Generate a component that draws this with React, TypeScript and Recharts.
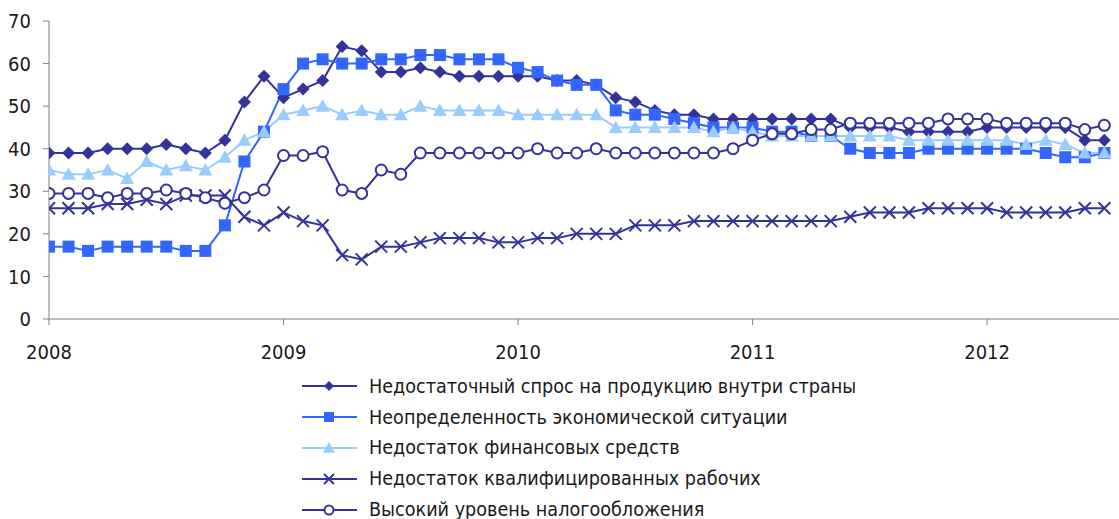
import React from 'react';
import { LineChart, Line, XAxis, YAxis, Legend } from 'recharts';

const years = ['2008', '2009', '2010', '2011', '2012'];
const yearTicks = [0, 12, 24, 36, 48];
const valueTicks = [0, 10, 20, 30, 40, 50, 60, 70];

// monthly values, Jan 2008 .. Jul 2012
const demand = [
  39, 39, 39, 40, 40, 40, 41, 40, 39, 42, 51, 57, 52, 54, 56, 64, 63,
  58, 58, 59, 58, 57, 57, 57, 57, 57, 56, 56, 55, 52, 51, 49, 48, 48, 47, 47,
  47, 47, 47, 47, 47, 45, 45, 45, 44, 44, 44, 44, 45, 45, 45, 45, 45, 42, 42,
];
const uncertainty = [
  17, 17, 16, 17, 17, 17, 17, 16, 16, 22, 37, 44, 54, 60, 61, 60, 60,
  61, 61, 62, 62, 61, 61, 61, 59, 58, 56, 55, 55, 49, 48, 48, 47, 46, 45, 45,
  45, 44, 44, 43, 43, 40, 39, 39, 39, 40, 40, 40, 40, 40, 40, 39, 38, 38, 39,
];
const finance = [
  35, 34, 34, 35, 33, 37, 35, 36, 35, 38, 42, 44, 48, 49, 50, 48, 49,
  48, 48, 50, 49, 49, 49, 49, 48, 48, 48, 48, 48, 45, 45, 45, 45, 45, 44, 45,
  44, 43, 43, 43, 43, 43, 43, 43, 42, 42, 42, 42, 42, 42, 41, 42, 41, 39, 39,
];
const skills = [
  26, 26, 26, 27, 27, 28, 27, 29, 29, 29, 24, 22, 25, 23, 22, 15, 14,
  17, 17, 18, 19, 19, 19, 18, 18, 19, 19, 20, 20, 20, 22, 22, 22, 23, 23, 23,
  23, 23, 23, 23, 23, 24, 25, 25, 25, 26, 26, 26, 26, 25, 25, 25, 25, 26, 26,
];
const taxes = [
  29.5, 29.5, 29.5, 28.5, 29.5, 29.5, 30.3, 29.5, 28.5, 27.2, 28.5, 30.3, 38.4, 38.4, 39.3, 30.3, 29.5,
  35, 34, 39, 39, 39, 39, 39, 39, 40, 39, 39, 40, 39, 39, 39, 39, 39, 39, 40,
  42, 43.5, 43.5, 44.5, 44.5, 46, 46, 46, 46, 46, 47, 47, 47, 46, 46, 46, 46, 44.5, 45.5,
];

const data = demand.map((v, i) => ({
  i,
  demand: v,
  uncertainty: uncertainty[i],
  finance: finance[i],
  skills: skills[i],
  taxes: taxes[i],
}));

const NAVY = '#333399';
const BLUE = '#3366ff';
const LIGHT = '#99ccff';
const AXIS = '#808080';
const FONT = '"DejaVu Sans Condensed", "DejaVu Sans", sans-serif';

type Shape = 'diamond' | 'square' | 'triangle' | 'cross' | 'circle';

function marker(shape: Shape, color: string, cx: number, cy: number, s: number, key?: any) {
  switch (shape) {
    case 'diamond':
      return <path key={key} d={`M${cx},${cy - s}L${cx + s},${cy}L${cx},${cy + s}L${cx - s},${cy}Z`} fill={color} />;
    case 'square':
      return <rect key={key} x={cx - s} y={cy - s} width={s * 2} height={s * 2} fill={color} />;
    case 'triangle':
      return <path key={key} d={`M${cx},${cy - s}L${cx + s},${cy + s * 0.8}L${cx - s},${cy + s * 0.8}Z`} fill={color} />;
    case 'cross':
      return (
        <path key={key} d={`M${cx - s},${cy - s}L${cx + s},${cy + s}M${cx - s},${cy + s}L${cx + s},${cy - s}`}
          stroke={color} strokeWidth={2} fill="none" />
      );
    default:
      return <circle key={key} cx={cx} cy={cy} r={s} fill="#fff" stroke={color} strokeWidth={2} />;
  }
}

const dotSize: Record<Shape, number> = { diamond: 6.5, square: 6, triangle: 7, cross: 6, circle: 5.5 };

const makeDot = (shape: Shape, color: string) => (props: any) =>
  marker(shape, color, props.cx, props.cy, dotSize[shape], props.key ?? props.index);

const series: { key: string; name: string; color: string; shape: Shape }[] = [
  { key: 'demand', name: 'Недостаточный спрос на продукцию внутри страны', color: NAVY, shape: 'diamond' },
  { key: 'uncertainty', name: 'Неопределенность экономической ситуации', color: BLUE, shape: 'square' },
  { key: 'finance', name: 'Недостаток финансовых средств', color: LIGHT, shape: 'triangle' },
  { key: 'skills', name: 'Недостаток квалифицированных рабочих', color: NAVY, shape: 'cross' },
  { key: 'taxes', name: 'Высокий уровень налогообложения', color: NAVY, shape: 'circle' },
];

const legendSize: Record<Shape, number> = { diamond: 5, square: 5, triangle: 6, cross: 5, circle: 4.5 };

function LegendBox() {
  return (
    <div style={{ fontFamily: FONT, fontSize: 19.6, color: '#1a1a1a', height: 154 }}>
      {series.map((s) => (
        <div key={s.key} style={{ display: 'flex', alignItems: 'center', height: 30.8 }}>
          <svg width={56} height={20} style={{ flex: 'none' }}>
            <line x1={1} y1={10} x2={56} y2={10} stroke={s.color} strokeWidth={2} />
            {marker(s.shape, s.color, 28, 10, legendSize[s.shape])}
          </svg>
          <span style={{ marginLeft: 12, whiteSpace: 'nowrap' }}>{s.name}</span>
        </div>
      ))}
    </div>
  );
}

export default function App() {
  return (
    <div style={{ position: 'absolute', left: 0, top: 0 }}>
      <LineChart width={1119} height={519} data={data} margin={{ top: 21, right: 0, bottom: 0, left: 0 }}>
        <XAxis
          dataKey="i"
          type="number"
          domain={[0, 54.75]}
          ticks={yearTicks}
          tickFormatter={(v) => years[v / 12]}
          height={46}
          stroke={AXIS}
          tickSize={6}
          tickMargin={20}
          tick={{ fill: '#1a1a1a', fontSize: 20, fontFamily: FONT }}
          allowDataOverflow
        />
        <YAxis
          domain={[0, 70]}
          ticks={valueTicks}
          width={49}
          stroke={AXIS}
          tickSize={6}
          tickMargin={12}
          tick={{ fill: '#1a1a1a', fontSize: 20, fontFamily: FONT }}
        />
        <Legend
          layout="vertical"
          verticalAlign="bottom"
          align="center"
          content={() => <LegendBox />}
          wrapperStyle={{ left: 301, top: 371, bottom: 'auto', width: 'auto' }}
        />
        {series.map((s) => (
          <Line
            key={s.key}
            dataKey={s.key}
            name={s.name}
            type="linear"
            stroke={s.color}
            strokeWidth={2}
            dot={makeDot(s.shape, s.color)}
            activeDot={false}
            isAnimationActive={false}
          />
        ))}
      </LineChart>
    </div>
  );
}
